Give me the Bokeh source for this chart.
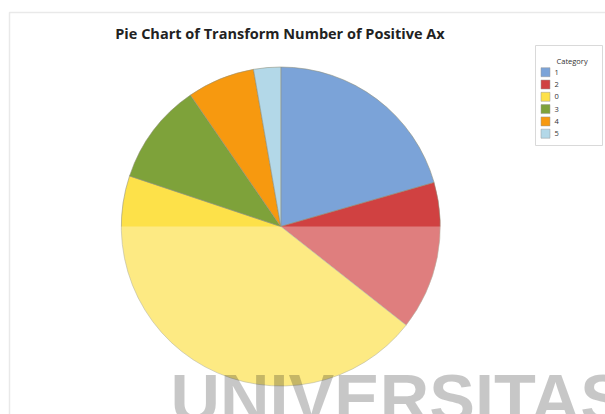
import math
from bokeh.plotting import figure
from bokeh.models import Range1d, ColumnDataSource
from bokeh.core.properties import value
from bokeh.embed import file_html
from bokeh.resources import INLINE

# ---- data ----
categories = ["1", "2", "0", "3", "4", "5"]
counts = [30, 22, 65, 15, 10, 4]
colors = ["#7BA3D8", "#D04141", "#FDE149", "#7EA23A", "#F7990F", "#B3D8E8"]
title_text = "Pie Chart of Transform Number of Positive Ax"
legend_title = "Category"
watermark = "UNIVERSITAS"

W, H = 605, 414
p = figure(width=W, height=H, x_range=Range1d(0, W), y_range=Range1d(0, H),
           output_backend="svg", toolbar_location=None, min_border=0)
p.axis.visible = False
p.grid.visible = False
p.outline_line_color = None
p.background_fill_color = "white"
p.border_fill_color = "white"

# faint frame
p.line(x=[9, 9, W + 5], y=[-5, 414 - 12, 414 - 12], line_color="#e9e9e9", line_width=1.5)

# pie
total = float(sum(counts))
cum = 0.0
starts, ends = [], []
for c in counts:
    a0 = cum / total
    cum += c
    a1 = cum / total
    starts.append(math.pi / 2 - a1 * 2 * math.pi)
    ends.append(math.pi / 2 - a0 * 2 * math.pi)
cx, cy, r = 280.3, 414 - 226.0, 159.5
src = ColumnDataSource(dict(start=starts, end=ends, color=colors, cat=categories))
p.wedge(x=cx, y=cy, radius=r, start_angle="start", end_angle="end",
        fill_color="color", line_color="#8f8f7a", line_width=0.8, line_alpha=0.7,
        source=src)

# semi-transparent white band (watermark artifact)
p.quad(left=100, right=470, bottom=20, top=cy, fill_color="white", fill_alpha=0.32,
       line_color=None)

# title
p.text(x=[279.5], y=[414 - 33], text=[title_text], text_font=value("Open Sans"),
       text_font_style="bold", text_font_size="14.5px", text_align="center",
       text_baseline="middle", text_color="#222222")

# legend
p.quad(left=535, right=602, bottom=414 - 145, top=414 - 45, fill_color="white",
       line_color="#d9d9d9", line_width=1)
p.text(x=[556], y=[414 - 60], text=[legend_title], text_font=value("Open Sans"),
       text_font_size="7.5px", text_baseline="middle", text_color="#333333")
row_y = [414 - (71.7 + 12.3 * i) for i in range(len(categories))]
lsrc = ColumnDataSource(dict(y=row_y, color=colors, cat=categories))
p.rect(x=545, y="y", width=9, height=9, fill_color="color", line_color="#999999",
       line_width=0.5, source=lsrc)
p.text(x=554, y="y", text="cat", text_font=value("Open Sans"), text_font_size="7.5px",
       text_baseline="middle", text_color="#333333", source=lsrc)

# watermark text
p.text(x=[170], y=[414 - 359], text=[watermark], text_font=value("Liberation Sans"),
       text_font_style="bold", text_font_size="68.5px", text_baseline="top",
       text_color="black", text_alpha=0.22)

open("out.html", "w").write(file_html(p, INLINE))
